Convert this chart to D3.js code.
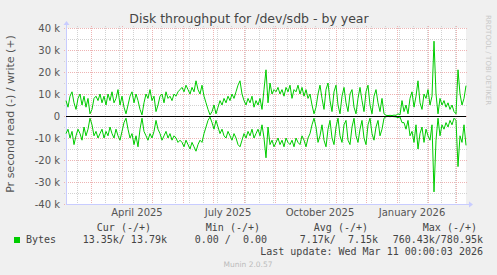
<html>
    <head>
        <title>Disk throughput for /dev/sdb - by year</title>
        <script src="https://cdn.jsdelivr.net/npm/d3@7"></script>
    </head>
    <body style="margin:0; background:#f0f0f0;">
        <svg width="497" height="275"></svg>

        <style>
            svg { display: block; }
            .tick-label { font: 10px "DejaVu Sans", sans-serif; fill: #555; }
            .legend { font: 10px "DejaVu Sans Mono", monospace; fill: #444; white-space: pre; }
        </style>
        <script>

            // Data: one sample every 2 days, in k (read is drawn below zero).
            var startDate = Date.UTC(2025, 1, 4),
                endDate = Date.UTC(2026, 2, 11),
                stepDays = 2;

            var writeK = [
                7, 4, 9, 11, 6, 3, 8, 10, 5, 9, 4, 8, 1,
                3, 8, 9, 7, 10, 6, 9, 5, 10, 7, 11, 6, 8, 12, 5, 9, 4, 1,
                5, 9, 11, 6, 10, 7, 3, 0.5, 6, 10, 8, 12, 7, 9, 2,
                5, 9, 10, 6, 11, 8, 9, 7, 10, 9, 11, 12,
                13, 11, 14, 12, 10, 13, 11, 16, 12, 10, 14, 9, 6, 3,
                0.5, 2, 5, 1, 4, 7, 5, 8, 6, 9, 7, 10, 8, 11, 14,
                16, 10, 7, 5, 8, 6, 9, 4, 7, 5, 8, 3,
                12, 21, 6, 15, 10, 12, 11, 13, 10, 12, 9, 13, 11, 14, 8, 12, 11, 14, 10, 13, 9, 12, 8, 10, 5,
                1, 4, 10, 14, 8, 3, 12, 15, 7, 2, 11, 14, 5, 1, 9, 13, 6, 2, 10, 12, 4, 1, 8, 13, 7, 2, 11, 14, 5, 1, 9, 12, 6, 2, 8, 1,
                0.3, 0.2, 0.3, 0.2, 0.4, 0.3, 1, 0.5, 7,
                2, 5, 1, 8, 11, 4, 9, 16, 6, 3, 10, 8, 12, 5, 9,
                34, 10, 1, 8, 5, 7, 4, 6, 3, 5, 2, 1, 21, 10, 5, 8, 13.79
            ];

            var readK = [
                8, 6, 10, 7, 13, 9, 6, 8, 11, 5, 9, 6, 1,
                4, 9, 7, 10, 8, 6, 10, 7, 9, 5, 8, 10, 6, 9, 11, 7, 3, 1,
                6, 10, 8, 13, 9, 14, 6, 1, 7, 9, 11, 8, 10, 7, 2,
                6, 8, 11, 9, 7, 10, 8, 11, 9, 10, 12, 11,
                12, 14, 11, 13, 15, 12, 14, 16, 13, 11, 12, 8, 5, 2,
                0.5, 3, 6, 2, 5, 8, 6, 9, 10, 7, 9, 11, 8, 10, 13,
                14, 11, 8, 10, 7, 9, 6, 10, 8, 6, 9, 4,
                10, 19, 5, 13, 11, 14, 12, 10, 13, 11, 14, 10, 12, 13, 11, 14, 10, 12, 13, 9, 11, 14, 10, 8, 4,
                1, 5, 12, 9, 4, 11, 14, 6, 2, 10, 13, 5, 1, 9, 12, 4, 2, 11, 13, 5, 1, 9, 12, 6, 2, 10, 13, 4, 1, 8, 11, 5, 2, 9, 6, 1,
                0.3, 0.2, 0.3, 0.2, 0.3, 0.4, 0.8, 0.4, 3,
                3, 6, 2, 9, 7, 12, 4, 15, 8, 5, 12, 6, 9, 11, 4,
                34.5, 11, 1, 9, 4, 6, 3, 5, 2, 4, 1, 2, 23, 9, 12, 4, 13.35
            ];

            var yTicks = [-40000, -30000, -20000, -10000, 0, 10000, 20000, 30000, 40000];
            var legendHeaders = ["Cur (-/+)", "Min (-/+)", "Avg (-/+)", "Max (-/+)"];
            var legendValues = ["13.35k/ 13.79k", "0.00 /  0.00", "7.17k/  7.15k", "760.43k/780.95k"];

            var svg = d3.select("svg"),
                plotLeft = 66, plotTop = 28, plotW = 400, plotH = 176;

            var x = d3.scaleUtc().domain([startDate, endDate]).range([plotLeft, plotLeft + plotW]),
                y = d3.scaleLinear().domain([-40000, 40000]).range([plotTop + plotH, plotTop]);

            var dayMs = 864e5;
            var points = writeK.map(function(d, i) {
                return { t: new Date(startDate + i * stepDays * dayMs), w: d * 1000, r: -readK[i] * 1000 };
            });

            var px = function(v) { return Math.round(v) + 0.5; };

            // Canvas
            svg.append("rect").attr("width", 497).attr("height", 275).attr("fill", "#f0f0f0");
            svg.append("rect").attr("x", plotLeft).attr("y", plotTop).attr("width", plotW).attr("height", plotH).attr("fill", "#fff");

            var grid = svg.append("g").attr("shape-rendering", "crispEdges").attr("stroke-width", 1).attr("stroke-dasharray", "1,1");

            // Horizontal grid: minor every 5k, major every 10k.
            grid.selectAll(".hminor")
                .data(d3.range(-35000, 40000, 10000))
                .enter().append("line")
                    .attr("x1", plotLeft - 2).attr("x2", plotLeft + plotW + 2)
                    .attr("y1", function(d) { return px(y(d)); })
                    .attr("y2", function(d) { return px(y(d)); })
                    .attr("stroke", "#d2d2d2");

            // Vertical grid: minor every two weeks, major every month.
            var minorDates = d3.range(Date.UTC(2025, 1, 15), endDate, 14 * dayMs).map(function(t) { return new Date(t); });
            grid.selectAll(".vminor")
                .data(minorDates)
                .enter().append("line")
                    .attr("x1", function(d) { return px(x(d)); })
                    .attr("x2", function(d) { return px(x(d)); })
                    .attr("y1", plotTop - 2).attr("y2", plotTop + plotH + 2)
                    .attr("stroke", "#d2d2d2");

            var months = d3.utcMonth.range(new Date(startDate), new Date(endDate));
            grid.selectAll(".vmajor")
                .data(months)
                .enter().append("line")
                    .attr("x1", function(d) { return px(x(d)); })
                    .attr("x2", function(d) { return px(x(d)); })
                    .attr("y1", plotTop - 2).attr("y2", plotTop + plotH + 2)
                    .attr("stroke", "#eeb4b4");

            grid.selectAll(".hmajor")
                .data(yTicks)
                .enter().append("line")
                    .attr("x1", plotLeft - 2).attr("x2", plotLeft + plotW + 2)
                    .attr("y1", function(d) { return px(y(d)); })
                    .attr("y2", function(d) { return px(y(d)); })
                    .attr("stroke", "#eeb4b4");

            // Y labels
            svg.selectAll(".ylab")
                .data(yTicks)
                .enter().append("text")
                    .attr("class", "tick-label")
                    .attr("x", 60)
                    .attr("y", function(d) { return y(d); })
                    .attr("dy", "0.36em")
                    .attr("text-anchor", "end")
                    .text(function(d) { return d === 0 ? "0" : (d / 1000) + " k"; });

            // X labels every 3 months, centred mid-month
            var labelMonths = d3.utcMonth.every(3).range(new Date(startDate), new Date(endDate));
            var fmt = d3.utcFormat("%B %Y");
            svg.selectAll(".xlab")
                .data(labelMonths)
                .enter().append("text")
                    .attr("class", "tick-label")
                    .attr("x", function(d) { return x(d3.utcDay.offset(d, 15)); })
                    .attr("y", 216)
                    .attr("text-anchor", "middle")
                    .text(function(d) { return fmt(d); });

            // Axes with arrows
            var axisColor = "#c8ccff";
            svg.append("line").attr("x1", plotLeft + 0.5).attr("x2", plotLeft + 0.5).attr("y1", plotTop + plotH).attr("y2", plotTop - 4)
                .attr("stroke", axisColor).attr("shape-rendering", "crispEdges");
            svg.append("line").attr("x1", plotLeft).attr("x2", plotLeft + plotW + 4).attr("y1", plotTop + plotH + 0.5).attr("y2", plotTop + plotH + 0.5)
                .attr("stroke", axisColor).attr("shape-rendering", "crispEdges");
            svg.append("path").attr("d", d3.line()([[plotLeft - 2.5, plotTop - 3], [plotLeft + 3.5, plotTop - 3], [plotLeft + 0.5, plotTop - 7]])).attr("fill", axisColor);
            svg.append("path").attr("d", d3.line()([[plotLeft + plotW + 3, plotTop + plotH - 2.5], [plotLeft + plotW + 3, plotTop + plotH + 3.5], [plotLeft + plotW + 7, plotTop + plotH + 0.5]])).attr("fill", axisColor);

            // Series
            var writeLine = d3.line().x(function(d) { return x(d.t); }).y(function(d) { return y(d.w); });
            var readLine = d3.line().x(function(d) { return x(d.t); }).y(function(d) { return y(d.r); });

            svg.append("path").datum(points).attr("d", readLine).attr("fill", "none").attr("stroke", "#00cc00").attr("stroke-width", 1);
            svg.append("path").datum(points).attr("d", writeLine).attr("fill", "none").attr("stroke", "#00cc00").attr("stroke-width", 1);

            // Zero line
            svg.append("line").attr("x1", plotLeft).attr("x2", plotLeft + plotW).attr("y1", px(y(0))).attr("y2", px(y(0)))
                .attr("stroke", "#000").attr("shape-rendering", "crispEdges");

            // Title and side texts
            svg.append("text").attr("x", 249).attr("y", 23).attr("text-anchor", "middle")
                .style("font", "12.5px 'DejaVu Sans', sans-serif").attr("fill", "#444")
                .text("Disk throughput for /dev/sdb - by year");

            svg.append("text").attr("transform", "translate(14,114) rotate(-90)").attr("text-anchor", "middle")
                .style("font", "11px 'DejaVu Sans', sans-serif").attr("fill", "#555")
                .text("Pr second read (-) / write (+)");

            svg.append("text").attr("transform", "translate(485.5,15) rotate(90)")
                .style("font", "7px 'DejaVu Sans', sans-serif").attr("fill", "#c8c8c8")
                .text("RRDTOOL / TOBI OETIKER");

            // Legend
            var headerEnds = [151, 260, 368, 477],
                valueEnds = [167, 267, 378, 483];

            svg.selectAll(".lh")
                .data(legendHeaders)
                .enter().append("text")
                    .attr("class", "legend")
                    .attr("x", function(d, i) { return headerEnds[i]; })
                    .attr("y", 231)
                    .attr("text-anchor", "end")
                    .text(function(d) { return d; });

            svg.selectAll(".lv")
                .data(legendValues)
                .enter().append("text")
                    .attr("class", "legend")
                    .attr("x", function(d, i) { return valueEnds[i]; })
                    .attr("y", 243)
                    .attr("text-anchor", "end")
                    .text(function(d) { return d; });

            svg.append("rect").attr("x", 14).attr("y", 237).attr("width", 6).attr("height", 6).attr("fill", "#00cc00");
            svg.append("text").attr("class", "legend").attr("x", 26).attr("y", 243).text("Bytes");

            svg.append("text").attr("class", "legend").attr("x", 483).attr("y", 255).attr("text-anchor", "end")
                .text("Last update: Wed Mar 11 00:00:03 2026");

            svg.append("text").attr("x", 248).attr("y", 267).attr("text-anchor", "middle")
                .style("font", "7.5px 'DejaVu Sans', sans-serif").attr("fill", "#bbb")
                .text("Munin 2.0.57");

        </script>
    </body>
</html>
